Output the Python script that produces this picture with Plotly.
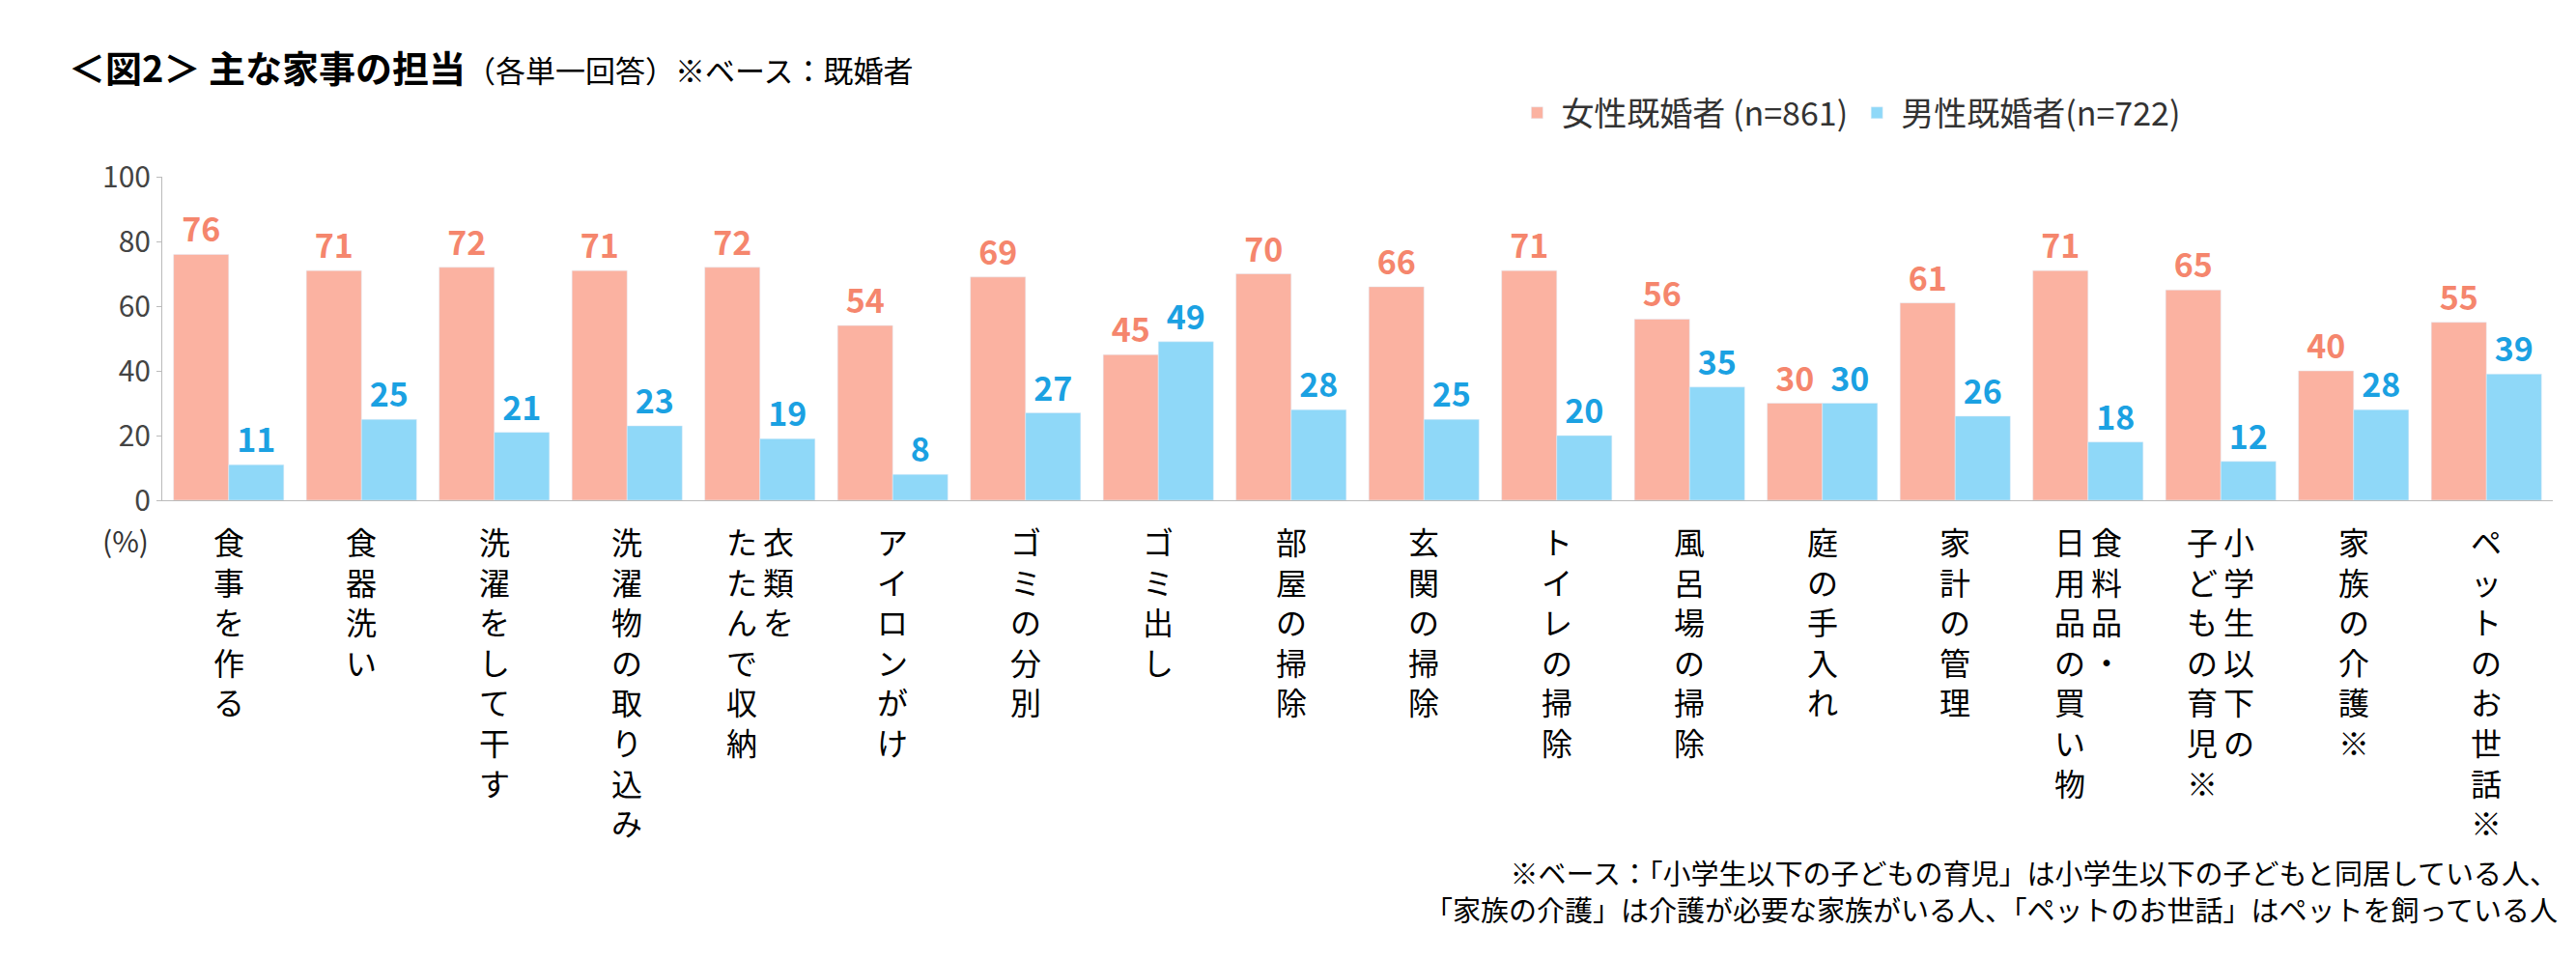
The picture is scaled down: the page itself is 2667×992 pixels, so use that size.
import plotly.graph_objects as go

# Data
categories = ['食事を作る', '食器洗い', '洗濯をして干す', '洗濯物の取り込み', '衣類を|たたんで収納',
              'アイロンがけ', 'ゴミの分別', 'ゴミ出し', '部屋の掃除', '玄関の掃除', 'トイレの掃除',
              '風呂場の掃除', '庭の手入れ', '家計の管理', '食料品・|日用品の買い物',
              '小学生以下の|子どもの育児※', '家族の介護※', 'ペットのお世話※']
female = [76, 71, 72, 71, 72, 54, 69, 45, 70, 66, 71, 56, 30, 61, 71, 65, 40, 55]
male = [11, 25, 21, 23, 19, 8, 27, 49, 28, 25, 20, 35, 30, 26, 18, 12, 28, 39]

FONT = 'Noto Sans CJK JP'
x = list(range(len(categories)))

fig = go.Figure()
fig.add_trace(go.Bar(x=x, y=female, name='女性既婚者 (n=861)', marker_color='#FBB2A1',
                     text=female, textposition='outside', cliponaxis=False,
                     textfont=dict(color='#F5866D', size=34, family=FONT, weight='bold')))
fig.add_trace(go.Bar(x=x, y=male, name='男性既婚者(n=722)', marker_color='#8FD8F8',
                     text=male, textposition='outside', cliponaxis=False,
                     textfont=dict(color='#1BA1E2', size=34, family=FONT, weight='bold')))


def vert(s):
    # vertical writing: long vowel mark rotated
    return '<br>'.join('｜' if c == 'ー' else c for c in s)


# Vertical category labels (first column on the right)
for i, cat in enumerate(categories):
    cols = cat.split('|')
    n = len(cols)
    for j, col in enumerate(cols):
        shift = (n - 1) * 19 - j * 38
        fig.add_annotation(x=i, y=-0.05, xref='x', yref='paper', text=vert(col),
                           showarrow=False, yanchor='top', xanchor='center', xshift=shift,
                           font=dict(size=32, family=FONT, color='black'))

fig.add_annotation(x=-0.005, y=-0.05, xref='paper', yref='paper', text='(%)', showarrow=False,
                   xanchor='right', yanchor='top', font=dict(size=30, family=FONT, color='#333'))

fig.add_annotation(x=-0.04, y=1.43, xref='paper', yref='paper', xanchor='left', yanchor='top',
                   showarrow=False,
                   text='<b>＜図2＞ 主な家事の担当</b><span style="font-size:31px">（各単一回答）※ベース：既婚者</span>',
                   font=dict(size=38, family=FONT, color='black'))
fig.add_annotation(x=1.003, y=-1.33, xref='paper', yref='paper', xanchor='right', yanchor='bottom',
                   showarrow=False, align='right',
                   text='※ベース：「小学生以下の子どもの育児」は小学生以下の子どもと同居している人、<br>'
                        '「家族の介護」は介護が必要な家族がいる人、「ペットのお世話」はペットを飼っている人',
                   font=dict(size=29, family=FONT, color='black'))

fig.update_xaxes(tickvals=x, showticklabels=False, range=[-0.5, len(categories) - 0.5],
                 showline=True, linecolor='#bbb', ticks='outside', ticklen=0)
fig.update_yaxes(range=[0, 100], dtick=20, showgrid=False, showline=True, linecolor='#bbb',
                 ticks='outside', tickcolor='#bbb', tickfont=dict(size=30, family=FONT, color='#444'))
fig.update_layout(
    width=2667, height=992, barmode='group', bargap=0.17, bargroupgap=0,
    plot_bgcolor='white', paper_bgcolor='white',
    margin=dict(l=160, r=32, t=175, b=482),
    font=dict(family=FONT),
    legend=dict(orientation='h', x=0.565, y=1.11, yanchor='bottom', xanchor='left',
                font=dict(size=34, family=FONT, color='#333'), itemwidth=40),
)

fig.write_html('out.html')
